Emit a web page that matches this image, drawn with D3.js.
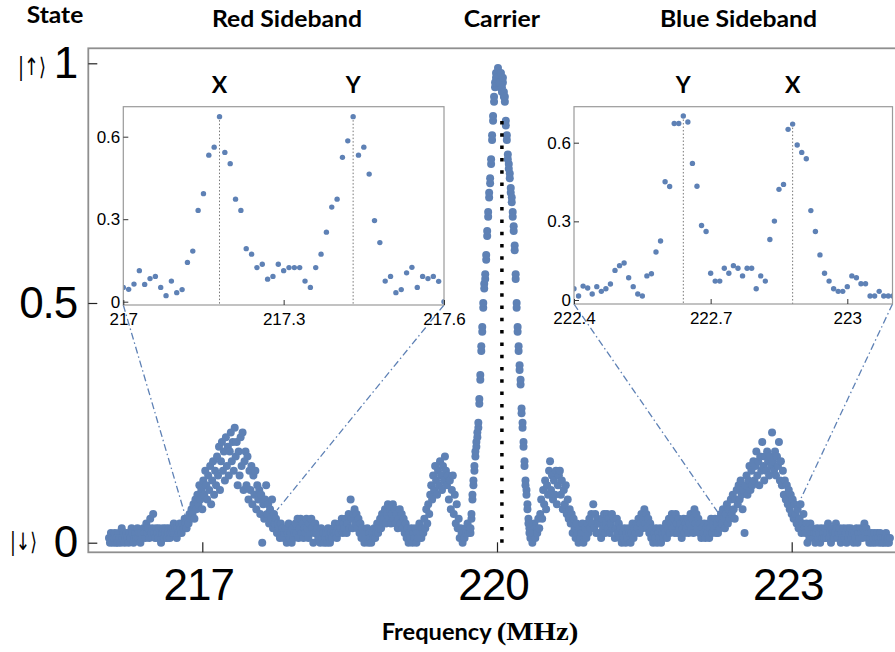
<!DOCTYPE html>
<html>
<head>
<meta charset="utf-8">
<script src="https://cdn.jsdelivr.net/npm/d3@7"></script>
<style>
body { margin: 0; background: #fff; }
svg { display: block; }
</style>
</head>
<body>
<div id="chart"></div>
<script>
"use strict";
// frequency grid of the scans (MHz)
var freqStep = 0.01;

// long scan, left part: 216.05 .. 219.72
var redStart = 216.05;
var redScan = [
    0.01, 0.00, 0.02, 0.01, 0.00, 0.01, 0.02, 0.00, 0.01, 0.00,
    0.02, 0.01, 0.00, 0.03, 0.01, 0.02, 0.00, 0.01, 0.02, 0.01,
    0.00, 0.02, 0.01, 0.03, 0.02, 0.00, 0.01, 0.02, 0.01, 0.03,
    0.01, 0.02, 0.00, 0.02, 0.01, 0.03, 0.02, 0.01, 0.04, 0.02,
    0.03, 0.01, 0.05, 0.02, 0.03, 0.06, 0.02, 0.01, 0.03, 0.02,
    0.01, 0.03, 0.02, 0.00, 0.02, 0.03, 0.01, 0.02, 0.03, 0.01,
    0.02, 0.03, 0.01, 0.02, 0.03, 0.02, 0.04, 0.02, 0.03, 0.01,
    0.03, 0.02, 0.04, 0.03, 0.02, 0.04, 0.03, 0.05, 0.04, 0.03,
    0.05, 0.04, 0.06, 0.05, 0.07, 0.06, 0.08, 0.05, 0.09, 0.07,
    0.10, 0.08, 0.12, 0.09, 0.11, 0.07, 0.13, 0.10, 0.15, 0.12,
    0.09, 0.14, 0.11, 0.16, 0.08, 0.13, 0.17, 0.10, 0.15, 0.12,
    0.18, 0.14, 0.20, 0.11, 0.17, 0.21, 0.15, 0.19, 0.13, 0.22,
    0.16, 0.20, 0.14, 0.19, 0.23, 0.17, 0.21, 0.15, 0.24, 0.18,
    0.21, 0.12, 0.19, 0.14, 0.22, 0.16, 0.23, 0.11, 0.17, 0.19,
    0.12, 0.18, 0.09, 0.15, 0.11, 0.16, 0.08, 0.14, 0.10, 0.15,
    0.07, 0.12, 0.09, 0.11, 0.06, 0.10, 0.00, 0.08, 0.05, 0.09,
    0.12, 0.06, 0.08, 0.04, 0.07, 0.05, 0.09, 0.03, 0.06, 0.04,
    0.05, 0.02, 0.04, 0.03, 0.01, 0.04, 0.02, 0.03, 0.01, 0.02,
    0.03, 0.00, 0.02, 0.04, 0.01, 0.02, 0.00, 0.03, 0.01, 0.02,
    0.04, 0.02, 0.05, 0.01, 0.03, 0.05, 0.02, 0.04, 0.01, 0.03,
    0.02, 0.05, 0.03, 0.01, 0.04, 0.02, 0.05, 0.03, 0.00, 0.02,
    0.04, 0.02, 0.03, 0.01, 0.02, 0.00, 0.03, 0.01, 0.02, 0.00,
    0.01, 0.02, 0.00, 0.03, 0.01, 0.00, 0.02, 0.01, 0.03, 0.02,
    0.04, 0.02, 0.01, 0.03, 0.02, 0.04, 0.03, 0.05, 0.02, 0.04,
    0.03, 0.05, 0.02, 0.04, 0.06, 0.03, 0.09, 0.05, 0.03, 0.06,
    0.07, 0.04, 0.06, 0.03, 0.05, 0.02, 0.04, 0.01, 0.03, 0.02,
    0.00, 0.02, 0.01, 0.03, 0.00, 0.02, 0.01, 0.00, 0.02, 0.01,
    0.03, 0.01, 0.02, 0.04, 0.02, 0.03, 0.05, 0.03, 0.06, 0.04,
    0.05, 0.07, 0.04, 0.06, 0.08, 0.05, 0.07, 0.04, 0.06, 0.08,
    0.05, 0.07, 0.04, 0.06, 0.03, 0.05, 0.07, 0.04, 0.06, 0.03,
    0.05, 0.02, 0.04, 0.01, 0.03, 0.00, 0.02, 0.01, 0.03, 0.00,
    0.02, 0.01, 0.03, 0.00, 0.02, 0.01, 0.04, 0.02, 0.01, 0.03,
    0.02, 0.05, 0.03, 0.07, 0.04, 0.08, 0.06, 0.10, 0.12, 0.09,
    0.14, 0.11, 0.16, 0.13, 0.10, 0.15, 0.12, 0.17, 0.14, 0.11,
    0.16, 0.13, 0.18, 0.15, 0.12, 0.14, 0.09, 0.13, 0.07, 0.11,
    0.14, 0.06, 0.10, 0.04, 0.08, 0.03, 0.05, 0.01, 0.03, 0.02,
    0.00, 0.02, 0.01, 0.03, 0.02, 0.04, 0.02, 0.03
];

// carrier: 219.73 .. 220.33, two passes
var carrierStart = 219.73;
var carrierScan = [
    0.02, 0.05, 0.09, 0.12, 0.15, 0.18, 0.20, 0.22, 0.24, 0.29,
    0.34, 0.40, 0.44, 0.49, 0.54, 0.55, 0.59, 0.64, 0.68, 0.72,
    0.75, 0.79, 0.84, 0.88, 0.92,
    0.95, 0.97, 0.96, 0.98, 0.97, 0.95, 0.97, 0.94, 0.96, 0.93, 0.92,
    0.88, 0.84, 0.81, 0.79, 0.77, 0.74, 0.71, 0.69, 0.66, 0.62,
    0.55, 0.50, 0.45, 0.40, 0.37, 0.33, 0.28, 0.24, 0.21, 0.16,
    0.13, 0.11, 0.08, 0.05, 0.03
];
var carrierRepeat = [
    0.03, 0.06, 0.10, 0.13, 0.16, 0.19, 0.21, 0.23, 0.25, 0.30,
    0.35, 0.41, 0.45, 0.50, 0.53, 0.56, 0.60, 0.65, 0.69, 0.73,
    0.76, 0.80, 0.85, 0.89, 0.93,
    0.96, 0.98, 0.97, 0.99, 0.96, 0.96, 0.98, 0.95, 0.97, 0.94, 0.93,
    0.87, 0.85, 0.80, 0.78, 0.76, 0.73, 0.72, 0.68, 0.65, 0.61,
    0.56, 0.49, 0.44, 0.41, 0.36, 0.34, 0.27, 0.25, 0.20, 0.17,
    0.12, 0.10, 0.07, 0.04, 0.02
];

// long scan, right part: 220.34 .. 224.00
var blueStart = 220.34;
var blueScan = [
    0.01, 0.03, 0.00, 0.02, 0.04, 0.01, 0.03, 0.02, 0.05, 0.03,
    0.06, 0.09, 0.05, 0.11, 0.08, 0.13, 0.07, 0.12, 0.10, 0.15,
    0.17, 0.11, 0.14, 0.09, 0.13, 0.10, 0.15, 0.08, 0.12, 0.14,
    0.15, 0.10, 0.13, 0.07, 0.11, 0.08, 0.12, 0.06, 0.09, 0.05,
    0.07, 0.04, 0.06, 0.02, 0.05, 0.03, 0.01, 0.04, 0.02, 0.00,
    0.03, 0.01, 0.02, 0.04, 0.00, 0.02, 0.03, 0.01, 0.04, 0.02,
    0.05, 0.03, 0.06, 0.04, 0.08, 0.03, 0.06, 0.02, 0.05, 0.04,
    0.02, 0.04, 0.01, 0.05, 0.03, 0.06, 0.02, 0.04, 0.06, 0.03,
    0.05, 0.02, 0.04, 0.06, 0.03, 0.05, 0.01, 0.03, 0.05, 0.02,
    0.04, 0.01, 0.03, 0.00, 0.02, 0.01, 0.03, 0.00, 0.02, 0.01,
    0.03, 0.02, 0.00, 0.02, 0.04, 0.01, 0.03, 0.02, 0.04, 0.03,
    0.05, 0.02, 0.04, 0.06, 0.03, 0.05, 0.07, 0.04, 0.06, 0.03,
    0.05, 0.02, 0.04, 0.01, 0.03, 0.00, 0.02, 0.01, 0.03, 0.00,
    0.02, 0.01, 0.03, 0.00, 0.02, 0.01, 0.03, 0.02, 0.04, 0.01,
    0.03, 0.05, 0.02, 0.04, 0.06, 0.03, 0.05, 0.02, 0.06, 0.04,
    0.02, 0.05, 0.03, 0.04, 0.01, 0.03, 0.05, 0.02, 0.04, 0.03,
    0.05, 0.02, 0.04, 0.06, 0.03, 0.05, 0.02, 0.07, 0.04, 0.06,
    0.03, 0.05, 0.02, 0.04, 0.01, 0.03, 0.02, 0.04, 0.01, 0.03,
    0.02, 0.04, 0.01, 0.03, 0.05, 0.02, 0.04, 0.03, 0.05, 0.02,
    0.04, 0.02, 0.05, 0.03, 0.06, 0.04, 0.07, 0.05, 0.03, 0.06,
    0.08, 0.04, 0.07, 0.05, 0.09, 0.06, 0.10, 0.07, 0.05, 0.09,
    0.11, 0.08, 0.12, 0.09, 0.13, 0.10, 0.07, 0.11, 0.02, 0.12,
    0.14, 0.10, 0.13, 0.16, 0.11, 0.15, 0.12, 0.17, 0.13, 0.16,
    0.19, 0.14, 0.17, 0.12, 0.18, 0.15, 0.21, 0.16, 0.13, 0.18,
    0.15, 0.19, 0.17, 0.14, 0.18, 0.16, 0.23, 0.17, 0.15, 0.19,
    0.14, 0.18, 0.16, 0.21, 0.13, 0.17, 0.12, 0.15, 0.10, 0.13,
    0.09, 0.12, 0.08, 0.11, 0.07, 0.10, 0.06, 0.09, 0.05, 0.08,
    0.06, 0.04, 0.07, 0.03, 0.05, 0.08, 0.02, 0.04, 0.06, 0.03,
    0.02, 0.04, 0.00, 0.03, 0.01, 0.04, 0.02, 0.03, 0.01, 0.02,
    0.00, 0.02, 0.03, 0.01, 0.02, 0.00, 0.03, 0.01, 0.02, 0.01,
    0.03, 0.01, 0.02, 0.04, 0.01, 0.02, 0.00, 0.03, 0.02, 0.01,
    0.02, 0.04, 0.03, 0.01, 0.02, 0.03, 0.00, 0.02, 0.01, 0.03,
    0.01, 0.02, 0.00, 0.03, 0.01, 0.02, 0.03, 0.01, 0.02, 0.00,
    0.02, 0.01, 0.03, 0.00, 0.02, 0.01, 0.03, 0.02, 0.01, 0.03,
    0.04, 0.02, 0.03, 0.01, 0.02, 0.00, 0.01, 0.02, 0.00, 0.01,
    0.02, 0.00, 0.01, 0.02, 0.01, 0.00, 0.02, 0.01, 0.00, 0.01,
    0.00, 0.01, 0.02, 0.00, 0.01, 0.00, 0.01
];

// insets: fine scans, 217.00 .. 217.60 and 222.40 .. 223.10
var insetRedStart = 217.0;
var insetRed = [
    0.052, 0.045, 0.064, 0.113, 0.063, 0.084, 0.092, 0.052, 0.022, 0.075,
    0.033, 0.044, 0.143, 0.184, 0.332, 0.393, 0.533, 0.562, 0.673, 0.543,
    0.502, 0.373, 0.332, 0.193, 0.173, 0.124, 0.136, 0.082, 0.092, 0.136,
    0.113, 0.124, 0.124, 0.124, 0.075, 0.052, 0.124, 0.173, 0.253, 0.344,
    0.373, 0.525, 0.585, 0.673, 0.533, 0.562, 0.464, 0.295, 0.215, 0.075,
    0.092, 0.033, 0.044, 0.105, 0.125, 0.052, 0.092, 0.084, 0.092, 0.074,
    0.000
];
var insetBlueStart = 222.4;
var insetBlue = [
    0.043, 0.015, 0.053, 0.046, 0.023, 0.051, 0.033, 0.043, 0.061, 0.113,
    0.131, 0.141, 0.085, 0.051, 0.023, 0.015, 0.092, 0.100, 0.183, 0.225,
    0.451, 0.433, 0.673, 0.673, 0.702, 0.679, 0.521, 0.434, 0.284, 0.261,
    0.102, 0.072, 0.072, 0.121, 0.102, 0.131, 0.121, 0.092, 0.121, 0.121,
    0.043, 0.092, 0.072, 0.231, 0.301, 0.422, 0.441, 0.651, 0.671, 0.591,
    0.563, 0.539, 0.341, 0.261, 0.172, 0.102, 0.072, 0.043, 0.033, 0.033,
    0.051, 0.092, 0.085, 0.062, 0.062, 0.015, 0.015, 0.033, 0.015, 0.015,
    0.015
];

var mainTicksX = [217, 220, 223];
var mainTicksY = [0, 0.5, 1];
var insetRedTicks = [217, 217.3, 217.6];
var insetBlueTicks = [222.4, 222.7, 223];
var insetTicksY = [0, 0.3, 0.6];
var redMarks = [{ label: 'X', freq: 217.18, peak: 0.673 }, { label: 'Y', freq: 217.43, peak: 0.673 }];
var blueMarks = [{ label: 'Y', freq: 222.64, peak: 0.702 }, { label: 'X', freq: 222.88, peak: 0.671 }];
var carrierFreq = 220.05;
var carrierTop = 0.89;
// where the zoom guides meet the main scan [freq, state]
var redZoomEnds = [[216.83, 0.054], [217.76, 0.068]];
var blueZoomEnds = [[222.29, 0.051], [223.08, 0.086]];

var dotColor = '#5e81b5';
var sans = 'Liberation Sans, Arial, sans-serif';
var bold = 'Lato, Open Sans, sans-serif';

function toPoints(start, values) {
    return values.map(function (v, i) {
        return { f: start + i * freqStep, s: v };
    });
}

var svg = d3.select('#chart')
    .append('svg')
    .attr('width', 895)
    .attr('height', 652);

// == main plot == //
var x = d3.scaleLinear().domain([217, 223]).range([202.3, 791.7]);
var y = d3.scaleLinear().domain([0, 1]).range([542.7, 63.3]);
var frame = { left: 88.3, right: 897, top: 48.3, bottom: 552.3 };

svg.append('rect')
    .attr('x', frame.left)
    .attr('y', frame.top)
    .attr('width', frame.right - frame.left)
    .attr('height', frame.bottom - frame.top)
    .attr('fill', 'none')
    .attr('stroke', '#8f8f8f')
    .attr('stroke-width', 1.8);

var xAxis = d3.axisBottom(x)
    .tickValues(mainTicksX)
    .tickFormat(function (d) { return String(d); })
    .tickSizeInner(-10)
    .tickSizeOuter(0)
    .tickPadding(16);
var gx = svg.append('g').attr('transform', 'translate(0,' + frame.bottom + ')').call(xAxis);
gx.select('.domain').remove();
gx.selectAll('line').attr('stroke', '#222').attr('stroke-width', 1.2);
gx.selectAll('text')
    .attr('font-family', sans)
    .attr('font-size', 44)
    .attr('letter-spacing', -1)
    .attr('dx', -4)
    .attr('fill', '#000');

var yAxis = d3.axisLeft(y)
    .tickValues(mainTicksY)
    .tickFormat(function (d) { return String(d); })
    .tickSizeInner(-9)
    .tickSizeOuter(0)
    .tickPadding(11);
var gy = svg.append('g').attr('transform', 'translate(' + frame.left + ',0)').call(yAxis);
gy.select('.domain').remove();
gy.selectAll('line').attr('stroke', '#222').attr('stroke-width', 1.2);
gy.selectAll('text')
    .attr('font-family', sans)
    .attr('font-size', 44)
    .attr('letter-spacing', -1)
    .attr('fill', '#000');

// zoom guides, under the dots
function zoomGuides(ends, corners) {
    svg.selectAll(null)
        .data(ends)
        .enter()
        .append('line')
        .attr('x1', function (d, i) { return corners[i][0]; })
        .attr('y1', function (d, i) { return corners[i][1]; })
        .attr('x2', function (d) { return x(d[0]); })
        .attr('y2', function (d) { return y(d[1]); })
        .attr('stroke', dotColor)
        .attr('stroke-width', 1.3)
        .attr('stroke-dasharray', '7,3,1.5,3');
}

var x1 = d3.scaleLinear().domain([217, 217.6]).range([123.3, 444]);
var y1 = d3.scaleLinear().domain([0, 0.6]).range([301.7, 136.7]);
var box1 = { left: 123.3, right: 444, top: 106.7, bottom: 305 };
var x2 = d3.scaleLinear().domain([222.4, 223]).range([574, 847.3]);
var y2 = d3.scaleLinear().domain([0, 0.6]).range([300, 142.7]);
var box2 = { left: 574, right: 892.5, top: 106.7, bottom: 304 };

zoomGuides(redZoomEnds, [[box1.left, box1.bottom], [box1.right, box1.bottom]]);
zoomGuides(blueZoomEnds, [[box2.left, box2.bottom], [box2.right, box2.bottom]]);

var mainPoints = toPoints(redStart, redScan)
    .concat(toPoints(blueStart, blueScan))
    .concat(toPoints(carrierStart, carrierScan))
    .concat(toPoints(carrierStart, carrierRepeat));

svg.append('g')
    .selectAll('circle')
    .data(mainPoints)
    .enter()
    .append('circle')
    .attr('cx', function (d) { return x(d.f); })
    .attr('cy', function (d) { return y(d.s); })
    .attr('r', 4)
    .attr('fill', dotColor);

svg.append('line')
    .attr('x1', x(carrierFreq))
    .attr('x2', x(carrierFreq))
    .attr('y1', y(0))
    .attr('y2', y(carrierTop))
    .attr('stroke', '#000')
    .attr('stroke-width', 3.5)
    .attr('stroke-dasharray', '3.5,8.8');

// == insets == //
function addInset(id, box, sx, sy, points, xticks, marks) {
    var g = svg.append('g');
    g.append('clipPath')
        .attr('id', id)
        .append('rect')
        .attr('x', box.left)
        .attr('y', box.top)
        .attr('width', box.right - box.left)
        .attr('height', box.bottom - box.top);
    g.append('rect')
        .attr('x', box.left)
        .attr('y', box.top)
        .attr('width', box.right - box.left)
        .attr('height', box.bottom - box.top)
        .attr('fill', '#fff');

    g.selectAll('.mark')
        .data(marks)
        .enter()
        .append('line')
        .attr('class', 'mark')
        .attr('x1', function (d) { return sx(d.freq); })
        .attr('x2', function (d) { return sx(d.freq); })
        .attr('y1', function (d) { return sy(d.peak); })
        .attr('y2', box.bottom)
        .attr('stroke', '#777')
        .attr('stroke-width', 1)
        .attr('stroke-dasharray', '1.5,2');

    g.append('g')
        .attr('clip-path', 'url(#' + id + ')')
        .selectAll('circle')
        .data(points)
        .enter()
        .append('circle')
        .attr('cx', function (d) { return sx(d.f); })
        .attr('cy', function (d) { return sy(d.s); })
        .attr('r', 2.7)
        .attr('fill', dotColor);

    g.append('rect')
        .attr('x', box.left)
        .attr('y', box.top)
        .attr('width', box.right - box.left)
        .attr('height', box.bottom - box.top)
        .attr('fill', 'none')
        .attr('stroke', '#9a9a9a')
        .attr('stroke-width', 1.2);

    var bx = g.append('g')
        .attr('transform', 'translate(0,' + box.bottom + ')')
        .call(d3.axisBottom(sx)
            .tickValues(xticks)
            .tickFormat(function (d) { return String(d); })
            .tickSizeInner(-5)
            .tickSizeOuter(0)
            .tickPadding(8));
    var by = g.append('g')
        .attr('transform', 'translate(' + box.left + ',0)')
        .call(d3.axisLeft(sy)
            .tickValues(insetTicksY)
            .tickFormat(function (d) { return String(d); })
            .tickSizeInner(-5)
            .tickSizeOuter(0)
            .tickPadding(3));
    [bx, by].forEach(function (a) {
        a.select('.domain').remove();
        a.selectAll('line').attr('stroke', '#333');
        a.selectAll('text')
            .attr('font-family', sans)
            .attr('font-size', 17)
            .attr('fill', '#000');
    });

    g.selectAll('.markLabel')
        .data(marks)
        .enter()
        .append('text')
        .attr('class', 'markLabel')
        .attr('x', function (d) { return sx(d.freq); })
        .attr('y', 93.3)
        .attr('text-anchor', 'middle')
        .attr('font-family', bold)
        .attr('font-weight', 'bold')
        .attr('font-size', 23)
        .text(function (d) { return d.label; });
}

addInset('clipRed', box1, x1, y1, toPoints(insetRedStart, insetRed), insetRedTicks, redMarks);
addInset('clipBlue', box2, x2, y2, toPoints(insetBlueStart, insetBlue), insetBlueTicks, blueMarks);

// == labels == //
function label(str, x0, base, width, font, size, weight) {
    svg.append('text')
        .attr('x', x0)
        .attr('y', base)
        .attr('font-family', font)
        .attr('font-size', size)
        .attr('font-weight', weight || 'normal')
        .attr('textLength', width)
        .attr('lengthAdjust', 'spacingAndGlyphs')
        .attr('fill', '#000')
        .text(str);
}

label('State', 26.7, 23.3, 56.6, bold, 23, 'bold');
label('Red Sideband', 212, 26.7, 150, bold, 23, 'bold');
label('Carrier', 463.7, 26.7, 76.3, bold, 23, 'bold');
label('Blue Sideband', 660, 26.7, 157, bold, 23, 'bold');
label('Frequency', 381.7, 640, 110, bold, 23, 'bold');
label('(MHz)', 496.7, 640, 81.6, 'Liberation Serif, DejaVu Serif, serif', 26, 'bold');
label('|\u2191\u27E9', 18, 75, 28, 'DejaVu Sans, sans-serif', 24);
label('|\u2193\u27E9', 10, 550, 27, 'DejaVu Sans, sans-serif', 24);
</script>
</body>
</html>
